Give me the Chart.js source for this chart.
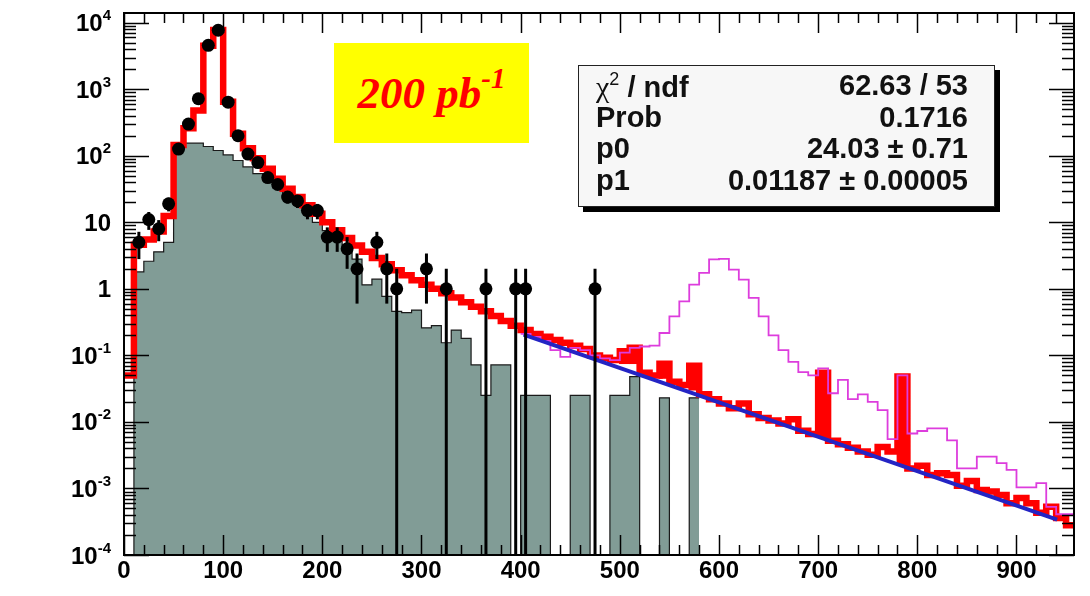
<!DOCTYPE html>
<html>
<head>
<meta charset="utf-8">
<script src="https://cdn.jsdelivr.net/npm/chart.js@4.4.1/dist/chart.umd.min.js"></script>
<style>
  body { margin: 0; background: #fff; }
  #wrap { position: relative; width: 1090px; height: 596px; overflow: hidden; }
  #lumi {
    position: absolute; left: 334px; top: 43px; width: 195px; height: 100px;
    background: #ffff00; color: #ff0000; text-align: center;
    font: italic bold 45px "Liberation Serif", "Times New Roman", serif; line-height: 100px;
  }
  #lumi sup { font-size: 29px; vertical-align: 0; position: relative; top: -20px; line-height: 0; }
  #stats {
    position: absolute; left: 578px; top: 65px; width: 417px; height: 142px; box-sizing: border-box;
    border: 1.5px solid #222; background: #f7f7f7; box-shadow: 5px 5px 0 #000;
    padding: 4px 26px 0 17px;
    font: bold 29px "Liberation Sans", Arial, sans-serif; color: #111;
  }
  #stats .row { display: flex; justify-content: space-between; height: 31.5px; line-height: 31.5px; }
  #stats .chi { font: 30px "Liberation Serif", serif; }
  #stats sup { font-size: 18px; vertical-align: 0; position: relative; top: -12px; line-height: 0; font-weight: normal; }
</style>
</head>
<body>
<div id="wrap">
  <canvas id="myChart" width="1090" height="596"></canvas>
  <div id="lumi">200 pb<sup>-1</sup></div>
  <div id="stats">
    <div class="row"><span><span class="chi">χ</span><sup>2</sup> / ndf</span><span>62.63 / 53</span></div>
    <div class="row"><span>Prob</span><span>0.1716</span></div>
    <div class="row"><span>p0</span><span>24.03 ± 0.71</span></div>
    <div class="row"><span>p1</span><span>0.01187 ± 0.00005</span></div>
  </div>
</div>
<script>
// histograms: 10 GeV bins, value per bin from the low edge
var binWidth = 10;

// grey filled background, bins 0..570
var greyStart = 0;
var greyHist = [
  0, 1.8, 2.6, 3.6, 5.0, 125, 155, 155, 138, 120,
  103, 85, 68, 54, 42, 33, 25, 19, 14, 10,
  7.5, 5.5, 4.0, 2.8, 1.15, 1.4, 0.77, 0.46, 0.44, 0.48,
  0.26, 0.28, 0.155, 0.24, 0.18, 0.072, 0.025, 0.072, 0.072, 0,
  0.025, 0.025, 0.025, 0, 0, 0.025, 0.025, 0, 0, 0.025,
  0.025, 0.048, 0, 0, 0.023, 0, 0, 0.023
];

// red total background, bins 0..950
var redStart = 0;
var redHist = [
  0.05, 4.6, 5.5, 7.3, 12.4, 145, 260, 480, 4500, 7800,
  650, 215, 130, 92, 64, 45, 32, 24, 18, 13.5,
  10, 7.6, 5.8, 4.5, 3.6, 2.9, 2.35, 1.9, 1.6, 1.35,
  1.15, 1.0, 0.86, 0.74, 0.63, 0.54, 0.46, 0.39, 0.33, 0.28,
  0.24, 0.21, 0.19, 0.17, 0.155, 0.14, 0.125, 0.1, 0.092, 0.085,
  0.115, 0.13, 0.055, 0.05, 0.075, 0.04, 0.036, 0.07, 0.026, 0.022,
  0.019, 0.016, 0.019, 0.013, 0.0115, 0.0105, 0.0095, 0.011, 0.0074, 0.0066,
  0.055, 0.0052, 0.0046, 0.0041, 0.0036, 0.0032, 0.0042, 0.0036, 0.048, 0.002,
  0.0022, 0.0016, 0.0017, 0.0016, 0.0011, 0.0013, 0.00095, 0.0009, 0.0008, 0.0006,
  0.00072, 0.0006, 0.00043, 0.00053, 0.00036, 0.00028
];

// red bins that show as solid blobs: bin low edge and bottom of the blob
var blobBins = [500, 510, 540, 570, 700, 780];
var blobLow = [0.075, 0.075, 0.045, 0.03, 0.0058, 0.0022];

// magenta signal + background, bins 400..950
var magStart = 400;
var magHist = [
  0.21, 0.19, 0.165, 0.12, 0.095, 0.13, 0.12, 0.1, 0.09, 0.085,
  0.11, 0.13, 0.136, 0.14, 0.217, 0.386, 0.65, 1.16, 1.74, 2.77,
  2.83, 1.95, 1.38, 0.73, 0.386, 0.2, 0.12, 0.08, 0.056, 0.05,
  0.064, 0.027, 0.043, 0.022, 0.026, 0.02, 0.015, 0.0055, 0.05, 0.0067,
  0.0073, 0.008, 0.008, 0.0053, 0.002, 0.002, 0.003, 0.003, 0.0024, 0.0019,
  0.00104, 0.00104, 0.0012, 0.00053, 0.00041, 0.00041
];

// data points
var dataMass = [15, 25, 35, 45, 55, 65, 75, 85, 95, 105, 115, 125, 135, 145, 155, 165,
  175, 185, 195, 205, 215, 225, 235, 255, 265, 275, 305, 325, 365, 395, 405, 475];
var dataCount = [5, 11, 8, 19, 126, 300, 720, 4570, 7700, 640, 200, 106, 79, 47, 37, 24,
  21, 15, 15, 6, 6, 4, 2, 5, 2, 1, 2, 1, 1, 1, 1, 1];
var dataErr = [2.2, 3.3, 2.8, 4.4, 11, 17, 27, 68, 88, 25, 14, 10, 8.9, 6.9, 6.1, 4.9,
  4.6, 3.9, 3.9, 2.4, 2.4, 2, 1.4, 2.2, 1.4, 1, 1.4, 1, 1, 1, 1, 1];

// fitted exponential, straight on the log axis: end points
var fitX = [403, 941];
var fitY = [0.205, 3.4e-4];

// axes
var xMin = 0, xMax = 958;
var yMin = 1e-4, yMax = 1.4e4;
var xTickLabels = ['0', '100', '200', '300', '400', '500', '600', '700', '800', '900'];
var xTickValues = [0, 100, 200, 300, 400, 500, 600, 700, 800, 900];
var yDecades = [-4, -3, -2, -1, 0, 1, 2, 3, 4];

function histPoints(vals, start) {
  var pts = vals.map(function (v, i) {
    return { x: start + i * binWidth, y: v > 0 ? v : 1e-6 };
  });
  pts.push({ x: start + vals.length * binWidth, y: pts[pts.length - 1].y });
  return pts;
}

var font = '"Liberation Sans", Arial, sans-serif';

// error bars on the data points
var errorBars = {
  id: 'errorBars',
  afterDatasetsDraw: function (chart) {
    var ctx = chart.ctx, x = chart.scales.x, y = chart.scales.y, a = chart.chartArea;
    ctx.save();
    ctx.beginPath();
    ctx.rect(a.left, a.top, a.right - a.left, a.bottom - a.top);
    ctx.clip();
    ctx.strokeStyle = '#000';
    ctx.lineWidth = 3;
    for (var i = 0; i < dataMass.length; i++) {
      var px = x.getPixelForValue(dataMass[i]);
      var lo = dataCount[i] - dataErr[i];
      var hi = dataCount[i] + dataErr[i];
      var pyLo = lo > 0 ? y.getPixelForValue(lo) : a.bottom;
      ctx.beginPath();
      ctx.moveTo(px, pyLo);
      ctx.lineTo(px, y.getPixelForValue(hi));
      ctx.stroke();
    }
    ctx.restore();
  }
};

// ROOT style frame with inner ticks on all four sides
var frame = {
  id: 'frame',
  afterDraw: function (chart) {
    var ctx = chart.ctx, x = chart.scales.x, y = chart.scales.y, a = chart.chartArea;
    ctx.save();
    ctx.strokeStyle = '#000';
    ctx.lineWidth = 1.5;
    function tick(x1, y1, x2, y2) {
      ctx.beginPath(); ctx.moveTo(x1, y1); ctx.lineTo(x2, y2); ctx.stroke();
    }
    for (var v = xMin; v <= xMax; v += 20) {
      var px = Math.round(x.getPixelForValue(v)) + 0.5;
      var len = v % 100 === 0 ? 20 : 10;
      tick(px, a.bottom, px, a.bottom - len);
      tick(px, a.top, px, a.top + len);
    }
    yDecades.forEach(function (e) {
      for (var m = 1; m <= 9; m++) {
        var val = m * Math.pow(10, e);
        if (val < yMin || val > yMax) continue;
        var py = Math.round(y.getPixelForValue(val)) + 0.5;
        var len = m === 1 ? 25 : 12;
        tick(a.left, py, a.left + len, py);
        tick(a.right, py, a.right - len, py);
      }
    });
    ctx.lineWidth = 2;
    ctx.strokeRect(a.left, a.top, a.right - a.left, a.bottom - a.top);

    ctx.fillStyle = '#000';
    ctx.font = 'bold 24px ' + font;
    ctx.textAlign = 'center';
    ctx.textBaseline = 'alphabetic';
    xTickValues.forEach(function (v, i) {
      ctx.fillText(xTickLabels[i], x.getPixelForValue(v), a.bottom + 23);
    });

    ctx.textAlign = 'left';
    var right = 111;
    yDecades.forEach(function (e) {
      var py = y.getPixelForValue(Math.pow(10, e)) + 8.5;
      ctx.font = 'bold 24px ' + font;
      if (e === 0 || e === 1) {
        var t = e === 0 ? '1' : '10';
        ctx.fillText(t, right - ctx.measureText(t).width, py);
      } else {
        var w1 = ctx.measureText('10').width;
        ctx.font = 'bold 15px ' + font;
        var ex = String(e);
        var w2 = ctx.measureText(ex).width;
        ctx.fillText(ex, right - w2, py - 11);
        ctx.font = 'bold 24px ' + font;
        ctx.fillText('10', right - w2 - w1, py);
      }
    });
    ctx.restore();
  }
};

var config = {
  type: 'line',
  data: {
    datasets: [
      {
        label: 'data',
        data: dataMass.map(function (m, i) { return { x: m, y: dataCount[i] }; }),
        showLine: false,
        pointRadius: 6.5,
        pointBackgroundColor: '#000',
        pointBorderWidth: 0,
        order: 0
      },
      {
        label: 'fit',
        data: fitX.map(function (m, i) { return { x: m, y: fitY[i] }; }),
        borderColor: '#2424c4',
        borderWidth: 4,
        pointRadius: 0,
        fill: false,
        order: 1
      },
      {
        label: 'signal + background',
        data: histPoints(magHist, magStart),
        stepped: 'before',
        borderColor: '#dd3ddd',
        borderWidth: 1.8,
        pointRadius: 0,
        fill: false,
        order: 2
      },
      {
        type: 'bar',
        label: 'background blobs',
        data: blobBins.map(function (b, i) {
          return { x: b + binWidth / 2, y: [blobLow[i], redHist[(b - redStart) / binWidth]] };
        }),
        backgroundColor: '#ff0000',
        borderWidth: 0,
        barThickness: 11,
        grouped: false,
        order: 2.5
      },
      {
        label: 'background',
        data: histPoints(redHist, redStart),
        stepped: 'before',
        borderColor: '#ff0000',
        borderWidth: 6.5,
        borderJoinStyle: 'miter',
        pointRadius: 0,
        fill: false,
        order: 3
      },
      {
        label: 'grey',
        data: histPoints(greyHist, greyStart),
        stepped: 'before',
        borderColor: '#1a1a1a',
        borderWidth: 1.2,
        backgroundColor: '#819c96',
        pointRadius: 0,
        fill: 'start',
        order: 4
      }
    ]
  },
  options: {
    responsive: false,
    animation: false,
    layout: { padding: { left: 124, right: 16, top: 13, bottom: 41 } },
    scales: {
      x: { type: 'linear', min: xMin, max: xMax, display: false, offset: false },
      y: { type: 'logarithmic', min: yMin, max: yMax, display: false }
    },
    plugins: {
      legend: { display: false },
      tooltip: { enabled: false }
    }
  },
  plugins: [errorBars, frame]
};

var myChart = new Chart(document.getElementById('myChart'), config);
</script>
</body>
</html>
